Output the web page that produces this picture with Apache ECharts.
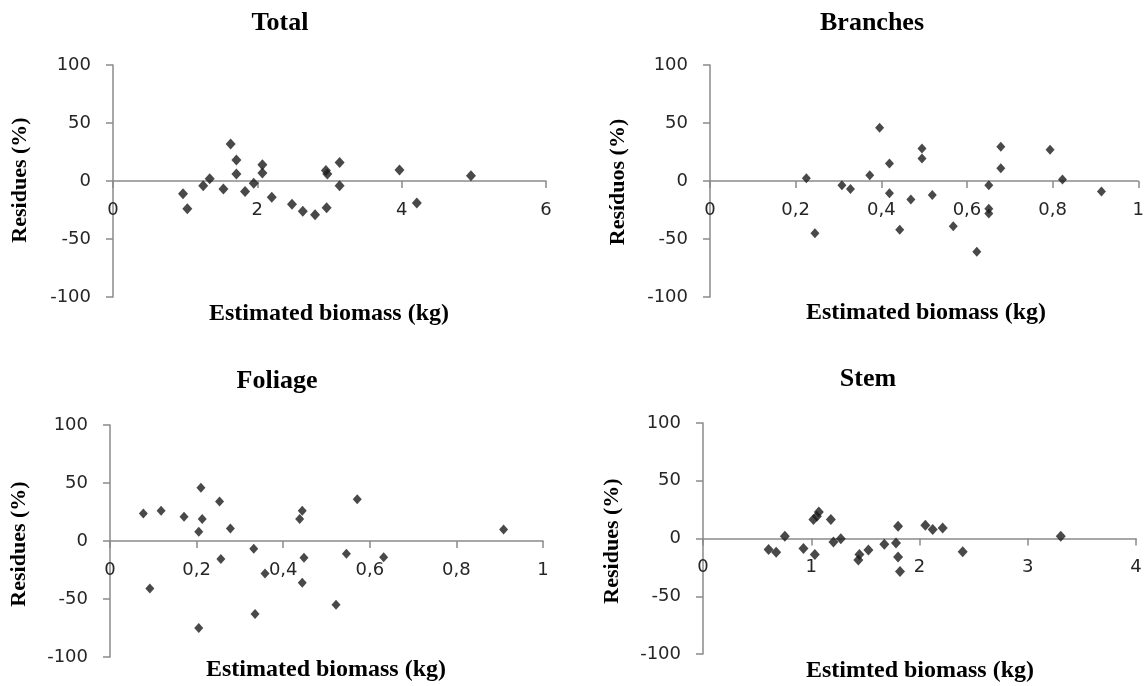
<!DOCTYPE html>
<html>
<head>
<meta charset="utf-8">
<script src="https://cdn.jsdelivr.net/npm/echarts@6/dist/echarts.min.js"></script>
<style>html,body{margin:0;padding:0;background:#fff;}#c{width:1147px;height:686px;}</style>
</head>
<body>
<div id="c"></div>
<script>
// ---- Data ----
const panelTitles = ['Total', 'Branches', 'Foliage', 'Stem'];
const yAxisNames = ['Residues (%)', 'Resíduos (%)', 'Residues (%)', 'Residues (%)'];
const xAxisNames = ['Estimated biomass (kg)', 'Estimated biomass (kg)', 'Estimated biomass (kg)', 'Estimted biomass (kg)'];
const xMax = [6, 1, 1, 4];
const xStep = [2, 0.2, 0.2, 1];

const totalBiomass  = [0.97, 1.03, 1.25, 1.34, 1.53, 1.63, 1.71, 1.71, 1.83, 1.95, 2.07, 2.07, 2.20, 2.48, 2.63, 2.80, 2.96, 2.95, 2.97, 3.14, 3.14, 3.97, 4.21, 4.96];
const totalResidues = [-11, -24, -4, 2, -7, 32, 18, 6, -9, -2, 14, 7, -14, -20, -26, -29, -23, 9, 6, 16, -4, 9.5, -19, 4.6];

const branchBiomass  = [0.225, 0.245, 0.308, 0.328, 0.373, 0.396, 0.419, 0.419, 0.443, 0.469, 0.495, 0.495, 0.519, 0.568, 0.623, 0.651, 0.651, 0.651, 0.679, 0.679, 0.794, 0.823, 0.914];
const branchResidues = [2.3, -45, -3.7, -7, 5, 46, 15, -10.6, -42, -16, 28, 19.5, -12, -39, -61, -3.7, -24, -28, 29.6, 11, 27, 1.4, -9];

const foliageBiomass  = [0.077, 0.092, 0.118, 0.171, 0.205, 0.205, 0.210, 0.213, 0.253, 0.256, 0.278, 0.332, 0.335, 0.358, 0.438, 0.444, 0.444, 0.448, 0.522, 0.546, 0.571, 0.632, 0.909];
const foliageResidues = [23.6, -41, 26, 21, -75, 8, 46, 19, 34, -15.5, 10.7, -6.6, -63, -28, 19, 26, -36, -14.4, -55, -11, 36, -14, 10];

const stemBiomass  = [0.606, 0.676, 0.756, 0.928, 1.02, 1.033, 1.052, 1.07, 1.181, 1.205, 1.273, 1.435, 1.445, 1.528, 1.675, 1.783, 1.802, 1.802, 1.82, 2.054, 2.122, 2.214, 2.399, 3.305];
const stemResidues = [-9.5, -12, 2, -8.6, 16.4, -13.8, 19.3, 23, 16.4, -3, -0.3, -18.7, -13.8, -10, -5, -3.8, 10.6, -16, -28.5, 11.5, 7.8, 9, -11.5, 2];

const seriesX = [totalBiomass, branchBiomass, foliageBiomass, stemBiomass];
const seriesY = [totalResidues, branchResidues, foliageResidues, stemResidues];

// ---- Layout ----
const grids = [
  {left: 113, top: 65, width: 433, height: 232},
  {left: 710, top: 65, width: 433, height: 232},
  {left: 110, top: 425, width: 433, height: 232},
  {left: 703, top: 423, width: 433, height: 231}
];
const titlePos = [[280, 23], [872, 23], [277, 381], [868, 379]];
const yNamePos = [[20, 180], [618, 182], [19, 544], [612, 541]];
const xNamePos = [[329, 314], [926, 313], [326, 670], [920, 671]];
const symSizes = [10, 9, 9, 10];

const axisColor = '#8a8a8a';
const labelFont = {fontFamily: 'DejaVu Sans', fontSize: 18, color: '#262626'};
const serifBold = 'bold {s}px "Liberation Serif", "DejaVu Serif", serif';

const option = {
  animation: false,
  backgroundColor: '#ffffff',
  grid: grids.map(g => Object.assign({containLabel: false}, g)),
  xAxis: grids.map((g, i) => ({
    type: 'value', gridIndex: i, min: 0, max: xMax[i], interval: xStep[i],
    position: 'bottom',
    // y range is symmetric (-100..100): the zero line sits at mid-height
    offset: -g.height / 2,
    axisLine: {onZero: false, lineStyle: {color: axisColor, width: 1.5}},
    axisTick: {show: true, length: 7, inside: false, lineStyle: {color: axisColor, width: 1.5}},
    splitLine: {show: false},
    axisLabel: Object.assign({margin: 20, showMinLabel: true, showMaxLabel: true,
      formatter: v => String(Math.round(v * 100) / 100).replace('.', ',')}, labelFont)
  })),
  yAxis: grids.map((g, i) => ({
    type: 'value', gridIndex: i, min: -100, max: 100, interval: 50,
    axisLine: {show: true, onZero: false, lineStyle: {color: axisColor, width: 1.5}},
    axisTick: {show: true, length: 7, lineStyle: {color: axisColor, width: 1.5}},
    splitLine: {show: false},
    axisLabel: Object.assign({margin: 22}, labelFont)
  })),
  series: seriesX.map((xs, i) => ({
    type: 'scatter', xAxisIndex: i, yAxisIndex: i,
    symbol: 'diamond', symbolSize: [symSizes[i], symSizes[i] + 1],
    itemStyle: {color: '#1c1c1c'},
    data: xs.map((x, k) => [x, seriesY[i][k]])
  })),
  graphic: [].concat(
    panelTitles.map((t, i) => ({
      type: 'text', x: titlePos[i][0], y: titlePos[i][1],
      style: {text: t, font: serifBold.replace('{s}', 26), fill: '#000', align: 'center', verticalAlign: 'middle'}
    })),
    yAxisNames.map((t, i) => ({
      type: 'text', x: yNamePos[i][0], y: yNamePos[i][1], rotation: Math.PI / 2,
      style: {text: t, font: serifBold.replace('{s}', 22), fill: '#000', align: 'center', verticalAlign: 'middle'}
    })),
    xAxisNames.map((t, i) => ({
      type: 'text', x: xNamePos[i][0], y: xNamePos[i][1],
      style: {text: t, font: serifBold.replace('{s}', 24), fill: '#000', align: 'center', verticalAlign: 'middle'}
    }))
  )
};

const chart = echarts.init(document.getElementById('c'), null, {renderer: 'canvas'});
chart.setOption(option);
</script>
</body>
</html>
